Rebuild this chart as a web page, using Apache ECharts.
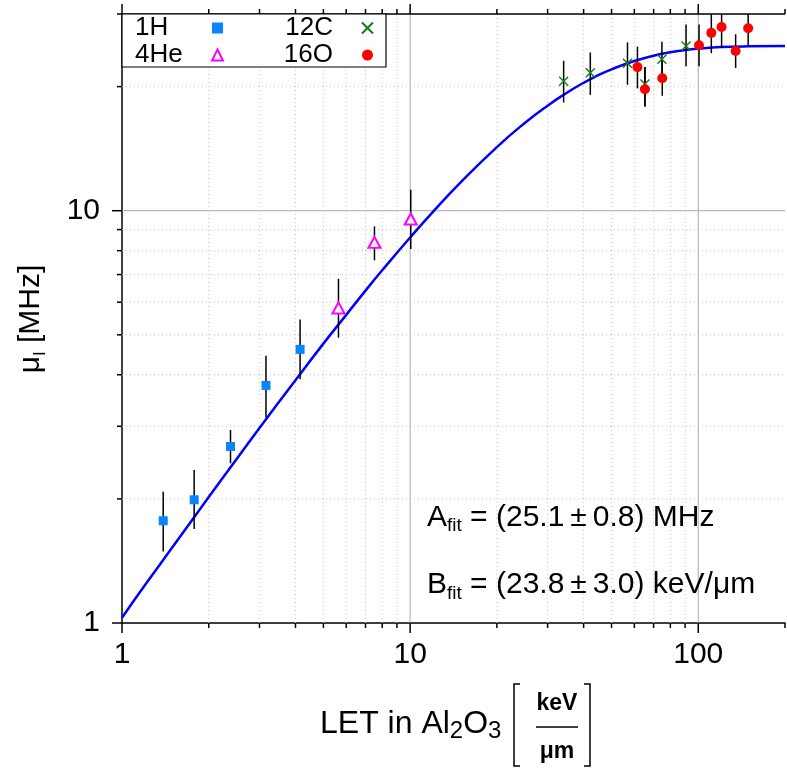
<!DOCTYPE html>
<html>
<head>
<meta charset="utf-8">
<script src="https://cdn.jsdelivr.net/npm/echarts@6/dist/echarts.min.js"></script>
<style>
html,body{margin:0;padding:0;background:#fff;}
#c{width:787px;height:771px;}
</style>
</head>
<body>
<div id="c"></div>
<script>
const FONT = '"Liberation Sans", Arial, Helvetica, sans-serif';

// ---- data ----
const h1X  = [1.39, 1.78, 2.38, 3.16, 4.15];
const h1Y  = [1.77, 1.99, 2.68, 3.77, 4.61];
const h1Lo = [1.49, 1.69, 2.44, 3.15, 3.90];
const h1Hi = [2.08, 2.35, 2.94, 4.45, 5.45];

const he4X  = [5.64, 7.52, 10.05];
const he4Y  = [5.81, 8.38, 9.55];
const he4Lo = [4.92, 7.58, 8.08];
const he4Hi = [6.84, 9.16, 11.24];

const c12X  = [34.1, 42.2, 56.8, 65.3, 74.8, 90.7];
const c12Y  = [20.6, 21.6, 22.8, 20.3, 23.3, 25.1];
const c12Lo = [18.3, 19.1, 20.2, 17.9, 21.2, 22.4];
const c12Hi = [23.1, 24.2, 25.6, 22.3, 25.7, 28.3];

const o16X  = [61.5, 65.3, 75.0, 100.6, 111, 120.5, 134.8, 149];
const o16Y  = [22.3, 19.7, 20.96, 25.2, 27.0, 27.9, 24.4, 27.7];
const o16Lo = [19.8, 17.9, 19.0, 22.4, 24.1, 24.8, 22.2, 25.2];
const o16Hi = [25.0, 22.3, 23.3, 28.3, 31.0, 31.0, 26.8, 31.0];

// fit curve (A_fit = 25.1 MHz, B_fit = 23.8 keV/um), tabulated
const fitX = [1, 1.2, 1.5, 2, 2.5, 3, 4, 5, 6, 7, 8, 10, 12, 15, 20, 25, 30, 35, 40, 45, 50, 60, 70, 80, 90, 100, 120, 150, 200];
const fitY = [1.03, 1.234, 1.53, 2.02, 2.50, 2.97, 3.88, 4.76, 5.59, 6.40, 7.17, 8.61, 9.94, 11.73, 14.27, 16.32, 17.98, 19.33, 20.43, 21.31, 22.03, 23.08, 23.77, 24.23, 24.53, 24.72, 24.94, 25.05, 25.09];

// axes
const X_MIN = 1, X_MAX = 200, Y_MIN = 1, Y_MAX = 30;
const xMajorTicks = [1, 10, 100];
const xMinorTicks = [2,3,4,5,6,7,8,9,20,30,40,50,60,70,80,90,200];
const xMajorGrid  = [10, 100];
const xMinorGrid  = [2,3,4,5,6,7,8,9,20,30,40,50,60,70,80,90];
const yMajorTicks = [1, 10];
const yMinorTicks = [2,3,4,5,6,7,8,9,20,30];
const yMajorGrid  = [10];
const yMinorGrid  = [2,3,4,5,6,7,8,9,20];

// ---- build ----
function pairs(xs, ys) { return xs.map((x, i) => [x, ys[i]]); }
function bars(xs, lo, hi) { return xs.map((x, i) => [x, lo[i], hi[i]]); }

const errData = [].concat(
  bars(h1X, h1Lo, h1Hi), bars(he4X, he4Lo, he4Hi),
  bars(c12X, c12Lo, c12Hi), bars(o16X, o16Lo, o16Hi));

// kinds: 0 x-minor tick, 1 x-major tick, 2 x-minor grid, 3 x-major grid,
//        4 y-minor tick, 5 y-major tick, 6 y-minor grid, 7 y-major grid, 9 top border
const frameData = [];
xMinorTicks.forEach(v => frameData.push([v, 1, 0]));
xMajorTicks.forEach(v => frameData.push([v, 1, 1]));
xMinorGrid.forEach(v => frameData.push([v, 1, 2]));
xMajorGrid.forEach(v => frameData.push([v, 1, 3]));
yMinorTicks.forEach(v => frameData.push([1, v, 4]));
yMajorTicks.forEach(v => frameData.push([1, v, 5]));
yMinorGrid.forEach(v => frameData.push([1, v, 6]));
yMajorGrid.forEach(v => frameData.push([1, v, 7]));
frameData.push([1, 1, 9]);

const AX = {stroke: '#000', lineWidth: 1.5};
const MINOR_GRID = {stroke: '#c4c4c4', lineWidth: 1, lineDash: [1, 3]};
const MAJOR_GRID = {stroke: '#a8a8a8', lineWidth: 1};

function ln(x1, y1, x2, y2, style) {
  return {type: 'line', shape: {x1, y1, x2, y2}, style};
}

function frameRender(params, api) {
  const cs = params.coordSys;
  const kind = api.value(2);
  const top = cs.y, bot = cs.y + cs.height, left = cs.x, right = cs.x + cs.width;
  const ch = [];
  if (kind <= 3) {
    const px = api.coord([api.value(0), Y_MIN])[0];
    if (kind === 0 || kind === 1) {
      const L = kind === 1 ? 10 : 5;
      ch.push(ln(px, bot, px, bot + L, AX));
      ch.push(ln(px, top, px, top - L, AX));
    } else {
      ch.push(ln(px, top, px, bot, kind === 3 ? MAJOR_GRID : MINOR_GRID));
    }
  } else if (kind <= 7) {
    const py = api.coord([X_MIN, api.value(1)])[1];
    if (kind === 4 || kind === 5) {
      const L = kind === 5 ? 10 : 5;
      ch.push(ln(left, py, left - L, py, AX));
    } else {
      ch.push(ln(left, py, right, py, kind === 7 ? MAJOR_GRID : MINOR_GRID));
    }
  } else {
    ch.push(ln(left, top, right, top, AX));
  }
  return {type: 'group', children: ch};
}

function errRender(params, api) {
  const x = api.value(0);
  const p1 = api.coord([x, api.value(1)]);
  const p2 = api.coord([x, api.value(2)]);
  return ln(p1[0], p1[1], p2[0], p2[1], {stroke: '#000', lineWidth: 1.5});
}

function isPow10(v) {
  const l = Math.log10(v);
  return Math.abs(l - Math.round(l)) < 1e-6;
}

const annRich = {
  m: {fontSize: 30, fontFamily: FONT, lineHeight: 36, verticalAlign: 'middle', color: '#000'},
  s: {fontSize: 19, fontFamily: FONT, lineHeight: 19, verticalAlign: 'bottom', color: '#000'}
};

const chart = echarts.init(document.getElementById('c'), null, {renderer: 'canvas'});
chart.setOption({
  backgroundColor: '#fff',
  animation: false,
  textStyle: {fontFamily: FONT},
  grid: {left: 122, right: 2, top: 14, bottom: 148, containLabel: false, outerBoundsMode: 'none'},
  xAxis: {
    type: 'log', logBase: 10, min: X_MIN, max: X_MAX,
    axisLine: {show: true, onZero: false, lineStyle: {color: '#000', width: 1.5}},
    axisTick: {show: false},
    splitLine: {show: false},
    minorTick: {show: false},
    axisLabel: {
      show: true, margin: 17, fontSize: 30, fontFamily: FONT, color: '#000',
      showMaxLabel: false, hideOverlap: false,
      formatter: v => isPow10(v) ? String(Math.round(v)) : ''
    }
  },
  yAxis: {
    type: 'log', logBase: 10, min: Y_MIN, max: Y_MAX,
    axisLine: {show: true, onZero: false, lineStyle: {color: '#000', width: 1.5}},
    axisTick: {show: false},
    splitLine: {show: false},
    minorTick: {show: false},
    axisLabel: {
      show: true, margin: 22, fontSize: 30, fontFamily: FONT, color: '#000',
      showMaxLabel: false, hideOverlap: false,
      formatter: v => isPow10(v) ? String(Math.round(v)) : ''
    }
  },
  legend: [
    {
      data: ['1H', '4He'], orient: 'vertical', left: 135, top: 15, padding: 0,
      align: 'right', itemWidth: 11, itemHeight: 11, itemGap: 1, z: 20,
      formatter: '{n|{name}}',
      textStyle: {color: '#000', rich: {n: {fontSize: 26, fontFamily: FONT, width: 72, align: 'left', lineHeight: 26, color: '#000'}}}
    },
    {
      data: ['12C', '16O'], orient: 'vertical', left: 273, top: 15, padding: 0,
      align: 'right', itemWidth: 11, itemHeight: 11, itemGap: 1, z: 20,
      formatter: '{n|{name}}',
      textStyle: {color: '#000', rich: {n: {fontSize: 26, fontFamily: FONT, width: 60, align: 'right', padding: [0, 24, 0, 0], lineHeight: 26, color: '#000'}}}
    }
  ],
  graphic: [
    {type: 'rect', z: 10, shape: {x: 122, y: 14, width: 264, height: 53},
     style: {fill: '#fff', stroke: '#000', lineWidth: 1.2}},
    {type: 'text', z: 11, x: 427, y: 517.5,
     style: {text: '{m|A}{s|fit}{m| = (25.1\u2009\u00b1\u20090.8) MHz}', rich: annRich, align: 'left', verticalAlign: 'middle'}},
    {type: 'text', z: 11, x: 427, y: 585,
     style: {text: '{m|B}{s|fit}{m| = (23.8\u2009\u00b1\u20093.0) keV/\u03bcm}', rich: annRich, align: 'left', verticalAlign: 'middle'}},
    // y axis title
    {type: 'text', z: 11, x: 31, y: 319, rotation: Math.PI / 2,
     style: {text: '{m|\u03bc}{s|I}{m| [MHz]}', align: 'center', verticalAlign: 'middle',
       rich: {
         m: {fontSize: 30, fontFamily: FONT, lineHeight: 36, verticalAlign: 'middle', color: '#000'},
         s: {fontSize: 17, fontFamily: FONT, lineHeight: 17, verticalAlign: 'bottom', color: '#000'}
       }}},
    // x axis title
    {type: 'text', z: 11, x: 320, y: 724.5,
     style: {text: '{m|LET in Al}{s|2}{m|O}{s|3}', align: 'left', verticalAlign: 'middle',
       rich: {
         m: {fontSize: 32, fontFamily: FONT, lineHeight: 38, verticalAlign: 'middle', color: '#000'},
         s: {fontSize: 24, fontFamily: FONT, lineHeight: 24, verticalAlign: 'bottom', color: '#000'}
       }}},
    {type: 'polyline', z: 11, shape: {points: [[520, 684], [514, 684], [514, 766], [520, 766]]},
     style: {stroke: '#000', lineWidth: 1.5, fill: null}},
    {type: 'polyline', z: 11, shape: {points: [[584, 684], [590, 684], [590, 766], [584, 766]]},
     style: {stroke: '#000', lineWidth: 1.5, fill: null}},
    {type: 'text', z: 11, x: 557, y: 703.5,
     style: {text: 'keV', font: 'bold 23px ' + FONT, fill: '#000', align: 'center', verticalAlign: 'middle'}},
    {type: 'line', z: 11, shape: {x1: 536, y1: 727, x2: 578, y2: 727}, style: {stroke: '#000', lineWidth: 1.5}},
    {type: 'text', z: 11, x: 557, y: 752,
     style: {text: '\u03bcm', font: 'bold 23px ' + FONT, fill: '#000', align: 'center', verticalAlign: 'middle'}}
  ],
  series: [
    {type: 'custom', name: 'frame', z: 1, silent: true, clip: false,
     renderItem: frameRender, encode: {x: 0, y: 1}, data: frameData},
    {type: 'line', name: 'fit', z: 3, data: pairs(fitX, fitY), showSymbol: false, symbol: 'none',
     smooth: 0.5, lineStyle: {color: '#0000ff', width: 2.5}, silent: true},
    {type: 'custom', name: 'err', z: 4, silent: true, clip: true,
     renderItem: errRender, encode: {x: 0, y: [1, 2]}, data: errData},
    {type: 'scatter', name: '1H', z: 5, data: pairs(h1X, h1Y), symbol: 'rect', symbolSize: 9,
     itemStyle: {color: '#0a84ff', opacity: 1}},
    {type: 'scatter', name: '4He', z: 5, data: pairs(he4X, he4Y), symbol: 'emptyTriangle', symbolSize: [12, 11],
     itemStyle: {color: '#ff00ff', borderColor: '#ff00ff', borderWidth: 1.3, opacity: 1}},
    {type: 'scatter', name: '12C', z: 5, data: pairs(c12X, c12Y), symbol: 'path://M0,0L10,10M10,0L0,10', symbolSize: 9,
     itemStyle: {color: '#157a15', borderColor: '#157a15', borderWidth: 1.4, opacity: 1}},
    {type: 'scatter', name: '16O', z: 5, data: pairs(o16X, o16Y), symbol: 'circle', symbolSize: 10,
     itemStyle: {color: '#ff0000', opacity: 1}}
  ]
});
</script>
</body>
</html>
